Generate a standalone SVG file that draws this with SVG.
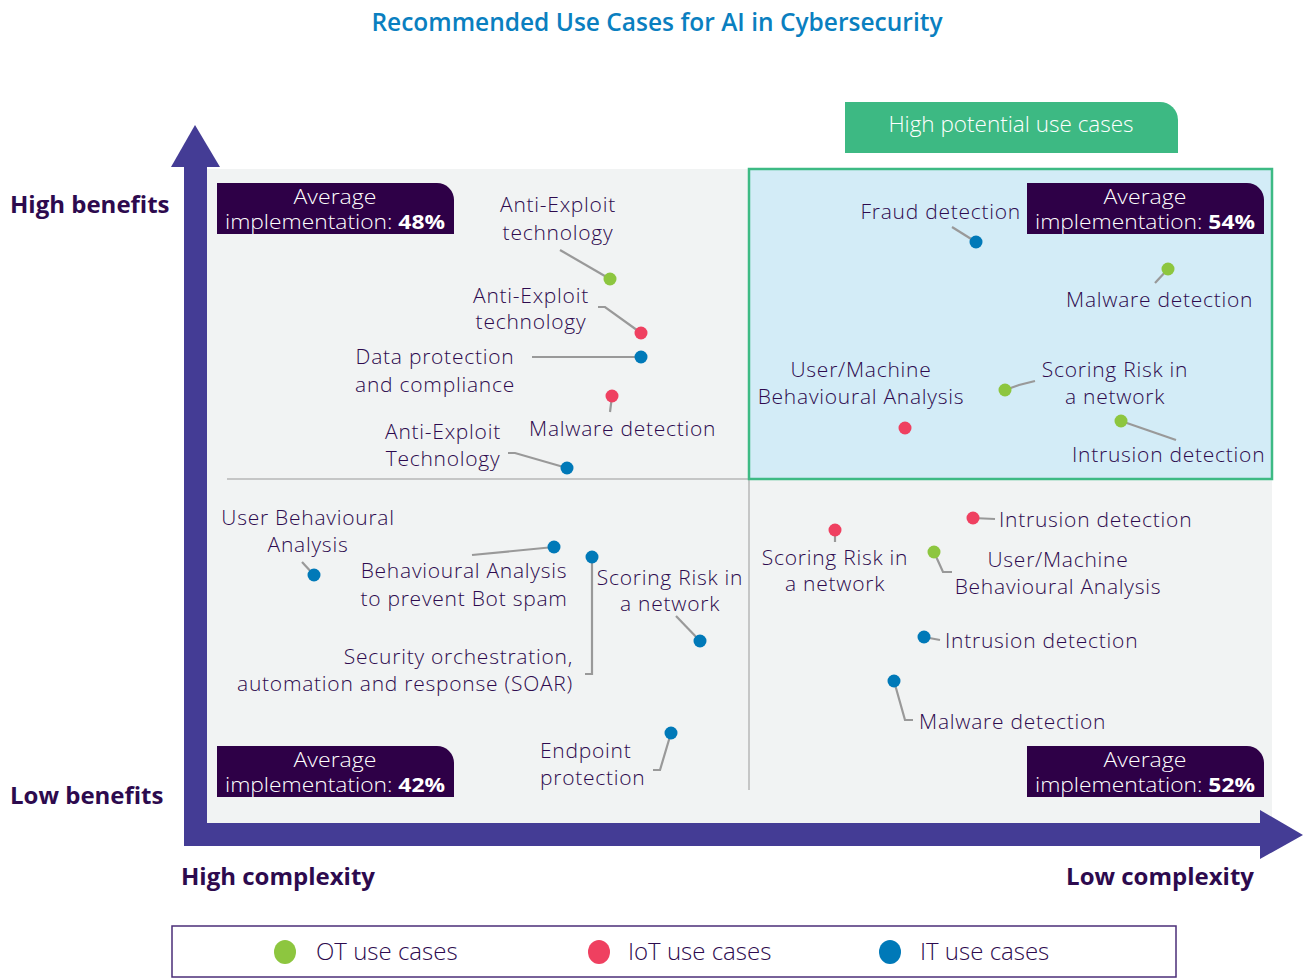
<svg xmlns="http://www.w3.org/2000/svg" width="1303" height="979" viewBox="0 0 1303 979">
<style>
text{font-family:"Open Sans","Noto Sans","Liberation Sans",sans-serif;fill:#2d0a4e;}
.lbl{font-size:21px;font-weight:300;letter-spacing:0.75px;}
.mid{text-anchor:middle;}
.end{text-anchor:end;}
.axis{font-size:24px;font-weight:700;}
.box{fill:#2e0047;}
.boxt{fill:#ffffff;font-size:20px;font-weight:300;text-anchor:middle;}
.b{font-weight:700;}
.con{fill:none;stroke:#999999;stroke-width:2.2;}
.ot{fill:#8dc63f;}
.iot{fill:#ef4060;}
.it{fill:#0079b8;}
.leg{font-size:24px;font-weight:300;}
</style>
<rect width="1303" height="979" fill="#ffffff"/>
<text x="657" y="31" class="mid" style="fill:#0a7fc0;font-size:24.5px;font-weight:600;">Recommended Use Cases for AI in Cybersecurity</text>

<g id="background">
<rect x="207" y="169" width="1065" height="654" fill="#f1f3f3"/>
<line x1="227" y1="479" x2="748" y2="479" stroke="#999999" stroke-width="1"/>
<line x1="749" y1="479" x2="749" y2="790" stroke="#999999" stroke-width="1"/>
</g>

<g id="high-potential">
<rect x="749" y="169" width="523" height="310" fill="#d3ecf7" stroke="#3dba84" stroke-width="2.5"/>
<path d="M845 102 H1160 A18 18 0 0 1 1178 120 V153 H845 Z" fill="#3db983"/>
<text x="1011" y="132" class="mid" style="fill:#ffffff;font-size:22.5px;font-weight:300;">High potential use cases</text>
</g>

<g id="axes" fill="#443c95">
<rect x="184" y="165" width="23" height="681"/>
<polygon points="195,125 220,167 171,167"/>
<rect x="184" y="823" width="1078" height="23"/>
<polygon points="1303,835 1260,810 1260,859"/>
</g>
<g id="axis-labels">
<text x="10" y="213" class="axis">High benefits</text>
<text x="10" y="804" class="axis">Low benefits</text>
<text x="181" y="885" class="axis">High complexity</text>
<text x="1254" y="885" class="axis end">Low complexity</text>
</g>

<g id="avg-48">
<path class="box" d="M217 183 H437 A17 17 0 0 1 454 200 V234 H217 Z"/>
<text class="boxt" x="335" y="204" textLength="83" lengthAdjust="spacingAndGlyphs">Average</text>
<text class="boxt" x="335" y="229" textLength="220" lengthAdjust="spacingAndGlyphs">implementation: <tspan class="b">48%</tspan></text>
</g>
<g id="avg-54">
<path class="box" d="M1027 183 H1247 A17 17 0 0 1 1264 200 V234 H1027 Z"/>
<text class="boxt" x="1145" y="204" textLength="83" lengthAdjust="spacingAndGlyphs">Average</text>
<text class="boxt" x="1145" y="229" textLength="220" lengthAdjust="spacingAndGlyphs">implementation: <tspan class="b">54%</tspan></text>
</g>
<g id="avg-42">
<path class="box" d="M217 746 H437 A17 17 0 0 1 454 763 V797 H217 Z"/>
<text class="boxt" x="335" y="767" textLength="83" lengthAdjust="spacingAndGlyphs">Average</text>
<text class="boxt" x="335" y="792" textLength="220" lengthAdjust="spacingAndGlyphs">implementation: <tspan class="b">42%</tspan></text>
</g>
<g id="avg-52">
<path class="box" d="M1027 746 H1247 A17 17 0 0 1 1264 763 V797 H1027 Z"/>
<text class="boxt" x="1145" y="767" textLength="83" lengthAdjust="spacingAndGlyphs">Average</text>
<text class="boxt" x="1145" y="792" textLength="220" lengthAdjust="spacingAndGlyphs">implementation: <tspan class="b">52%</tspan></text>
</g>

<g id="connectors">
<polyline class="con" points="560,250 610,279"/>
<polyline class="con" points="598,307 605,307 641,333"/>
<polyline class="con" points="532,357 641,357"/>
<polyline class="con" points="612,396 610,412"/>
<polyline class="con" points="508,453 515,453 567,468"/>
<polyline class="con" points="302,562 314,575"/>
<polyline class="con" points="472,555 554,547"/>
<polyline class="con" points="676,616 700,641"/>
<polyline class="con" points="592,557 592,674 585,674"/>
<polyline class="con" points="671,733 660,770 653,770"/>
<polyline class="con" points="835,530 835,542"/>
<polyline class="con" points="973,518 995,519"/>
<polyline class="con" points="934,552 943,572 952,572"/>
<polyline class="con" points="924,637 940,640"/>
<polyline class="con" points="894,681 905,720 913,720"/>
<polyline class="con" points="952,227 976,242"/>
<polyline class="con" points="1168,269 1155,283"/>
<polyline class="con" points="1005,390 1019,385 1035,381"/>
<polyline class="con" points="1121,421 1176,440"/>
</g>

<g id="n1"><circle class="ot" cx="610" cy="279" r="6.5"/><text class="lbl mid" x="558" y="212">Anti-Exploit</text><text class="lbl mid" x="558" y="240">technology</text></g>
<g id="n2"><circle class="iot" cx="641" cy="333" r="6.5"/><text class="lbl mid" x="531" y="303">Anti-Exploit</text><text class="lbl mid" x="531" y="329">technology</text></g>
<g id="n3"><circle class="it" cx="641" cy="357" r="6.5"/><text class="lbl mid" x="435" y="364">Data protection</text><text class="lbl mid" x="435" y="392">and compliance</text></g>
<g id="n4"><circle class="iot" cx="612" cy="396" r="6.5"/><text class="lbl" x="529" y="436">Malware detection</text></g>
<g id="n5"><circle class="it" cx="567" cy="468" r="6.5"/><text class="lbl mid" x="443" y="439">Anti-Exploit</text><text class="lbl mid" x="443" y="466">Technology</text></g>

<g id="n6"><circle class="it" cx="314" cy="575" r="6.5"/><text class="lbl mid" x="308" y="525">User Behavioural</text><text class="lbl mid" x="308" y="552">Analysis</text></g>
<g id="n7"><circle class="it" cx="554" cy="547" r="6.5"/><text class="lbl mid" x="464" y="578">Behavioural Analysis</text><text class="lbl mid" x="464" y="606">to prevent Bot spam</text></g>
<g id="n8"><circle class="it" cx="700" cy="641" r="6.5"/><text class="lbl mid" x="670" y="585">Scoring Risk in</text><text class="lbl mid" x="670" y="611">a network</text></g>
<g id="n9"><circle class="it" cx="592" cy="557" r="6.5"/><text class="lbl end" x="573" y="664">Security orchestration,</text><text class="lbl end" x="573" y="691">automation and response (SOAR)</text></g>
<g id="n10"><circle class="it" cx="671" cy="733" r="6.5"/><text class="lbl" x="540" y="758">Endpoint</text><text class="lbl" x="540" y="785">protection</text></g>

<g id="n11"><circle class="iot" cx="835" cy="530" r="6.5"/><text class="lbl mid" x="835" y="565">Scoring Risk in</text><text class="lbl mid" x="835" y="591">a network</text></g>
<g id="n12"><circle class="iot" cx="973" cy="518" r="6.5"/><text class="lbl" x="999" y="527">Intrusion detection</text></g>
<g id="n13"><circle class="ot" cx="934" cy="552" r="6.5"/><text class="lbl mid" x="1058" y="567">User/Machine</text><text class="lbl mid" x="1058" y="594">Behavioural Analysis</text></g>
<g id="n14"><circle class="it" cx="924" cy="637" r="6.5"/><text class="lbl" x="945" y="648">Intrusion detection</text></g>
<g id="n15"><circle class="it" cx="894" cy="681" r="6.5"/><text class="lbl" x="919" y="729">Malware detection</text></g>

<g id="n16"><circle class="it" cx="976" cy="242" r="6.5"/><text class="lbl end" x="1021" y="219">Fraud detection</text></g>
<g id="n17"><circle class="ot" cx="1168" cy="269" r="6.5"/><text class="lbl" x="1066" y="307">Malware detection</text></g>
<g id="n18"><circle class="iot" cx="905" cy="428" r="6.5"/><text class="lbl mid" x="861" y="377">User/Machine</text><text class="lbl mid" x="861" y="404">Behavioural Analysis</text></g>
<g id="n19"><circle class="ot" cx="1005" cy="390" r="6.5"/><text class="lbl mid" x="1115" y="377">Scoring Risk in</text><text class="lbl mid" x="1115" y="404">a network</text></g>
<g id="n20"><circle class="ot" cx="1121" cy="421" r="6.5"/><text class="lbl" x="1072" y="462">Intrusion detection</text></g>

<g id="legend">
<rect x="172" y="926" width="1004" height="51" fill="#ffffff" stroke="#4b2e78" stroke-width="1.5"/>
<ellipse class="ot" cx="285" cy="952" rx="11" ry="12"/>
<text class="leg" x="316" y="960">OT use cases</text>
<ellipse class="iot" cx="599" cy="952" rx="11" ry="12"/>
<text class="leg" x="628" y="960">IoT use cases</text>
<ellipse class="it" cx="890" cy="952" rx="11" ry="12"/>
<text class="leg" x="920" y="960">IT use cases</text>
</g>
</svg>
